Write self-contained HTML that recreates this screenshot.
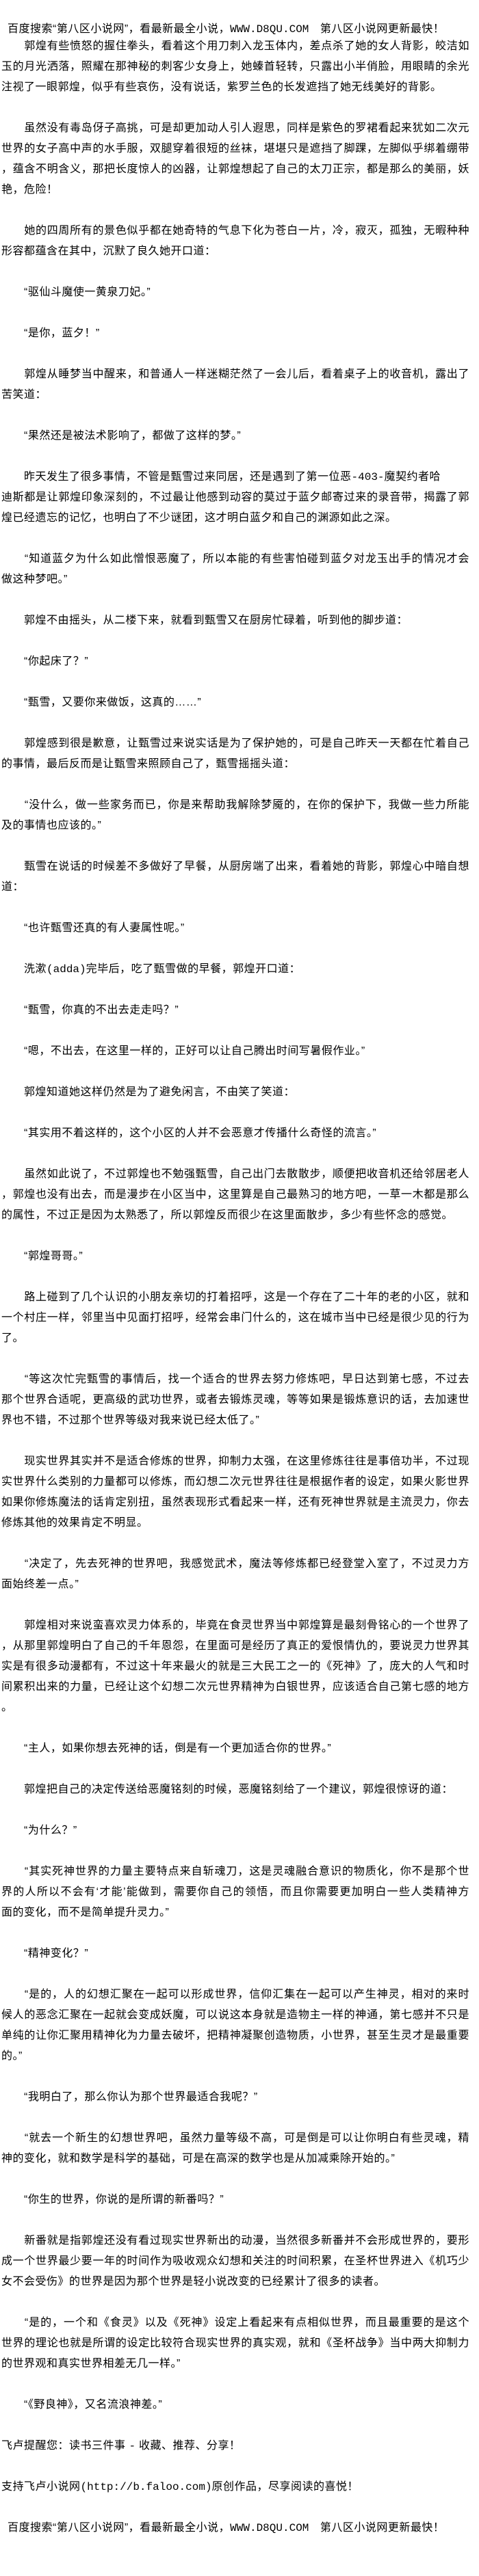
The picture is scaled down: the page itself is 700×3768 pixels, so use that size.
<!DOCTYPE html>
<html><head><meta charset="utf-8">
<style>
html,body{margin:0;padding:0;background:#fff;}
body{width:700px;height:3740px;overflow:hidden;font-family:"Liberation Sans","Noto Sans CJK SC",sans-serif;font-size:16px;letter-spacing:0.5px;color:#000;}
#w{padding-left:2px;}
div.l{height:30px;line-height:30px;white-space:nowrap;}
div.f{width:684px;text-align:justify;text-align-last:justify;}
.m{font-family:"Liberation Mono","Noto Sans CJK SC",monospace;letter-spacing:0;}
.hd{height:25px !important;margin-top:28px;padding-left:9px;}
.hd2{padding-left:9px;}
</style></head><body><div id="w">
<div class="l hd">百度搜索“第八区小说网”，看最新最全小说，<span class="m">WWW.D8QU.COM</span>　第八区小说网更新最快！</div>
<div class="l f">　　郭煌有些愤怒的握住拳头，看着这个用刀刺入龙玉体内，差点杀了她的女人背影，皎洁如</div>
<div class="l f">玉的月光洒落，照耀在那神秘的刺客少女身上，她螓首轻转，只露出小半俏脸，用眼睛的余光</div>
<div class="l">注视了一眼郭煌，似乎有些哀伤，没有说话，紫罗兰色的长发遮挡了她无线美好的背影。</div>
<div class="l"></div>
<div class="l f">　　虽然没有毒岛伢子高挑，可是却更加动人引人遐思，同样是紫色的罗裙看起来犹如二次元</div>
<div class="l f">世界的女子高中声的水手服，双腿穿着很短的丝袜，堪堪只是遮挡了脚踝，左脚似乎绑着绷带</div>
<div class="l f">，蕴含不明含义，那把长度惊人的凶器，让郭煌想起了自己的太刀正宗，都是那么的美丽，妖</div>
<div class="l">艳，危险！</div>
<div class="l"></div>
<div class="l f">　　她的四周所有的景色似乎都在她奇特的气息下化为苍白一片，冷，寂灭，孤独，无暇种种</div>
<div class="l">形容都蕴含在其中，沉默了良久她开口道：</div>
<div class="l"></div>
<div class="l">　　“驱仙斗魔使一黄泉刀妃。”</div>
<div class="l"></div>
<div class="l">　　“是你，蓝夕！”</div>
<div class="l"></div>
<div class="l f">　　郭煌从睡梦当中醒来，和普通人一样迷糊茫然了一会儿后，看着桌子上的收音机，露出了</div>
<div class="l">苦笑道：</div>
<div class="l"></div>
<div class="l">　　“果然还是被法术影响了，都做了这样的梦。”</div>
<div class="l"></div>
<div class="l">　　昨天发生了很多事情，不管是甄雪过来同居，还是遇到了第一位恶<span class="m">-403-</span>魔契约者哈</div>
<div class="l f">迪斯都是让郭煌印象深刻的，不过最让他感到动容的莫过于蓝夕邮寄过来的录音带，揭露了郭</div>
<div class="l">煌已经遗忘的记忆，也明白了不少谜团，这才明白蓝夕和自己的渊源如此之深。</div>
<div class="l"></div>
<div class="l f">　　“知道蓝夕为什么如此憎恨恶魔了，所以本能的有些害怕碰到蓝夕对龙玉出手的情况才会</div>
<div class="l">做这种梦吧。”</div>
<div class="l"></div>
<div class="l">　　郭煌不由摇头，从二楼下来，就看到甄雪又在厨房忙碌着，听到他的脚步道：</div>
<div class="l"></div>
<div class="l">　　“你起床了？”</div>
<div class="l"></div>
<div class="l">　　“甄雪，又要你来做饭，这真的……”</div>
<div class="l"></div>
<div class="l f">　　郭煌感到很是歉意，让甄雪过来说实话是为了保护她的，可是自己昨天一天都在忙着自己</div>
<div class="l">的事情，最后反而是让甄雪来照顾自己了，甄雪摇摇头道：</div>
<div class="l"></div>
<div class="l f">　　“没什么，做一些家务而已，你是来帮助我解除梦魇的，在你的保护下，我做一些力所能</div>
<div class="l">及的事情也应该的。”</div>
<div class="l"></div>
<div class="l f">　　甄雪在说话的时候差不多做好了早餐，从厨房端了出来，看着她的背影，郭煌心中暗自想</div>
<div class="l">道：</div>
<div class="l"></div>
<div class="l">　　“也许甄雪还真的有人妻属性呢。”</div>
<div class="l"></div>
<div class="l">　　洗漱<span class="m">(adda)</span>完毕后，吃了甄雪做的早餐，郭煌开口道：</div>
<div class="l"></div>
<div class="l">　　“甄雪，你真的不出去走走吗？”</div>
<div class="l"></div>
<div class="l">　　“嗯，不出去，在这里一样的，正好可以让自己腾出时间写暑假作业。”</div>
<div class="l"></div>
<div class="l">　　郭煌知道她这样仍然是为了避免闲言，不由笑了笑道：</div>
<div class="l"></div>
<div class="l">　　“其实用不着这样的，这个小区的人并不会恶意才传播什么奇怪的流言。”</div>
<div class="l"></div>
<div class="l f">　　虽然如此说了，不过郭煌也不勉强甄雪，自己出门去散散步，顺便把收音机还给邻居老人</div>
<div class="l f">，郭煌也没有出去，而是漫步在小区当中，这里算是自己最熟习的地方吧，一草一木都是那么</div>
<div class="l">的属性，不过正是因为太熟悉了，所以郭煌反而很少在这里面散步，多少有些怀念的感觉。</div>
<div class="l"></div>
<div class="l">　　“郭煌哥哥。”</div>
<div class="l"></div>
<div class="l f">　　路上碰到了几个认识的小朋友亲切的打着招呼，这是一个存在了二十年的老的小区，就和</div>
<div class="l f">一个村庄一样，邻里当中见面打招呼，经常会串门什么的，这在城市当中已经是很少见的行为</div>
<div class="l">了。</div>
<div class="l"></div>
<div class="l f">　　“等这次忙完甄雪的事情后，找一个适合的世界去努力修炼吧，早日达到第七感，不过去</div>
<div class="l f">那个世界合适呢，更高级的武功世界，或者去锻炼灵魂，等等如果是锻炼意识的话，去加速世</div>
<div class="l">界也不错，不过那个世界等级对我来说已经太低了。”</div>
<div class="l"></div>
<div class="l f">　　现实世界其实并不是适合修炼的世界，抑制力太强，在这里修炼往往是事倍功半，不过现</div>
<div class="l f">实世界什么类别的力量都可以修炼，而幻想二次元世界往往是根据作者的设定，如果火影世界</div>
<div class="l f">如果你修炼魔法的话肯定别扭，虽然表现形式看起来一样，还有死神世界就是主流灵力，你去</div>
<div class="l">修炼其他的效果肯定不明显。</div>
<div class="l"></div>
<div class="l f">　　“决定了，先去死神的世界吧，我感觉武术，魔法等修炼都已经登堂入室了，不过灵力方</div>
<div class="l">面始终差一点。”</div>
<div class="l"></div>
<div class="l f">　　郭煌相对来说蛮喜欢灵力体系的，毕竟在食灵世界当中郭煌算是最刻骨铭心的一个世界了</div>
<div class="l f">，从那里郭煌明白了自己的千年恩怨，在里面可是经历了真正的爱恨情仇的，要说灵力世界其</div>
<div class="l f">实是有很多动漫都有，不过这十年来最火的就是三大民工之一的《死神》了，庞大的人气和时</div>
<div class="l f">间累积出来的力量，已经让这个幻想二次元世界精神为白银世界，应该适合自己第七感的地方</div>
<div class="l">。</div>
<div class="l"></div>
<div class="l">　　“主人，如果你想去死神的话，倒是有一个更加适合你的世界。”</div>
<div class="l"></div>
<div class="l">　　郭煌把自己的决定传送给恶魔铭刻的时候，恶魔铭刻给了一个建议，郭煌很惊讶的道：</div>
<div class="l"></div>
<div class="l">　　“为什么？”</div>
<div class="l"></div>
<div class="l f">　　“其实死神世界的力量主要特点来自斩魂刀，这是灵魂融合意识的物质化，你不是那个世</div>
<div class="l f">界的人所以不会有‘才能’能做到，需要你自己的领悟，而且你需要更加明白一些人类精神方</div>
<div class="l">面的变化，而不是简单提升灵力。”</div>
<div class="l"></div>
<div class="l">　　“精神变化？”</div>
<div class="l"></div>
<div class="l f">　　“是的，人的幻想汇聚在一起可以形成世界，信仰汇集在一起可以产生神灵，相对的来时</div>
<div class="l f">候人的恶念汇聚在一起就会变成妖魔，可以说这本身就是造物主一样的神通，第七感并不只是</div>
<div class="l f">单纯的让你汇聚用精神化为力量去破坏，把精神凝聚创造物质，小世界，甚至生灵才是最重要</div>
<div class="l">的。”</div>
<div class="l"></div>
<div class="l">　　“我明白了，那么你认为那个世界最适合我呢？”</div>
<div class="l"></div>
<div class="l f">　　“就去一个新生的幻想世界吧，虽然力量等级不高，可是倒是可以让你明白有些灵魂，精</div>
<div class="l">神的变化，就和数学是科学的基础，可是在高深的数学也是从加减乘除开始的。”</div>
<div class="l"></div>
<div class="l">　　“你生的世界，你说的是所谓的新番吗？”</div>
<div class="l"></div>
<div class="l f">　　新番就是指郭煌还没有看过现实世界新出的动漫，当然很多新番并不会形成世界的，要形</div>
<div class="l f">成一个世界最少要一年的时间作为吸收观众幻想和关注的时间积累，在圣杯世界进入《机巧少</div>
<div class="l">女不会受伤》的世界是因为那个世界是轻小说改变的已经累计了很多的读者。</div>
<div class="l"></div>
<div class="l f">　　“是的，一个和《食灵》以及《死神》设定上看起来有点相似世界，而且最重要的是这个</div>
<div class="l f">世界的理论也就是所谓的设定比较符合现实世界的真实观，就和《圣杯战争》当中两大抑制力</div>
<div class="l">的世界观和真实世界相差无几一样。”</div>
<div class="l"></div>
<div class="l">　　“《野良神》，又名流浪神差。”</div>
<div class="l"></div>
<div class="l">飞卢提醒您：读书三件事 <span class="m">-</span> 收藏、推荐、分享！</div>
<div class="l"></div>
<div class="l">支持飞卢小说网<span class="m">(http://b.faloo.com)</span>原创作品，尽享阅读的喜悦！</div>
<div class="l"></div>
<div class="l hd2">百度搜索“第八区小说网”，看最新最全小说，<span class="m">WWW.D8QU.COM</span>　第八区小说网更新最快！</div>
</div></body></html>
